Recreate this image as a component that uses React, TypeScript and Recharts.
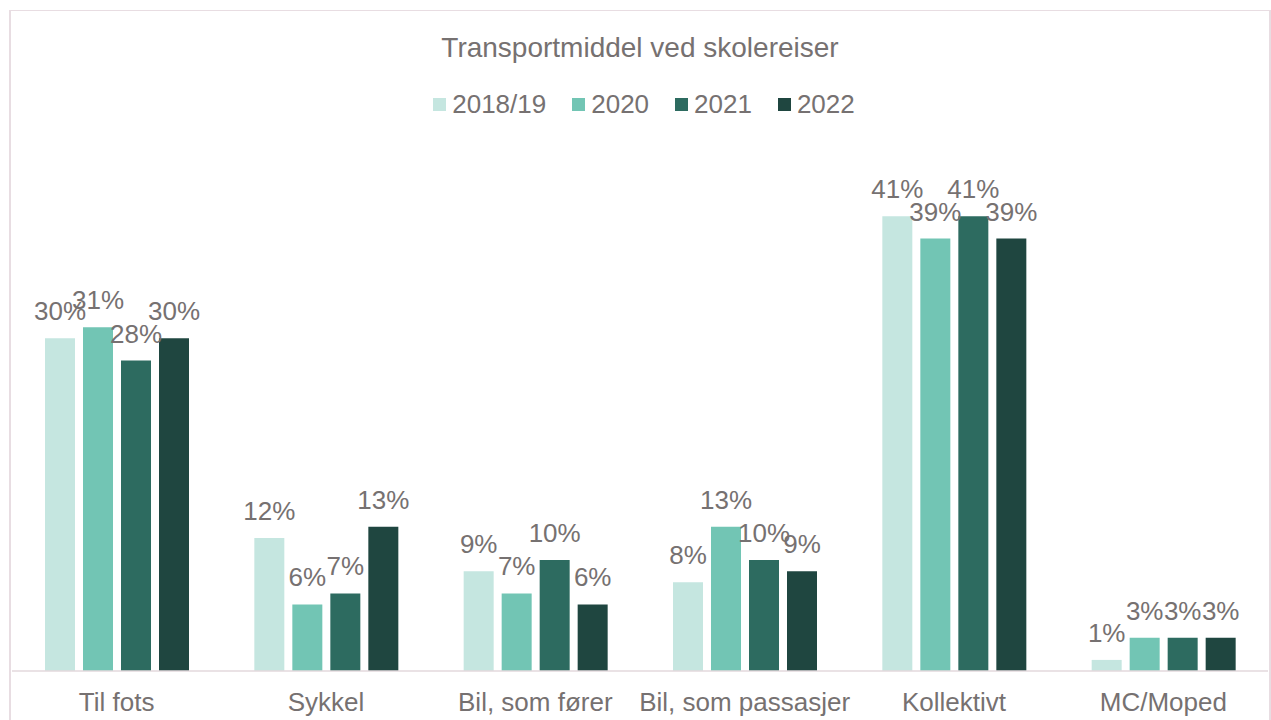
import { BarChart, Bar, XAxis, YAxis, Legend, LabelList } from 'recharts';

const categories = ['Til fots', 'Sykkel', 'Bil, som fører', 'Bil, som passasjer', 'Kollektivt', 'MC/Moped'];
const seriesNames = ['2018/19', '2020', '2021', '2022'];
const values2018 = [30, 12, 9, 8, 41, 1];
const values2020 = [31, 6, 7, 13, 39, 3];
const values2021 = [28, 7, 10, 10, 41, 3];
const values2022 = [30, 13, 6, 9, 39, 3];
const seriesValues = [values2018, values2020, values2021, values2022];
const colors = ['#C5E6E0', '#72C5B4', '#2D6B60', '#1F4640'];

const textColor = '#767171';
const fontFamily = '"Liberation Sans", Arial, sans-serif';

const data = categories.map((name, i) => {
  const row: Record<string, string | number> = { name };
  seriesNames.forEach((s, j) => {
    row[s] = seriesValues[j][i];
  });
  return row;
});

const renderLegend = (props: any) => {
  const payload = props.payload || [];
  return (
    <div
      style={{
        display: 'flex',
        justifyContent: 'center',
        alignItems: 'center',
        fontSize: 26,
        lineHeight: '30px',
        color: textColor,
        paddingLeft: 8,
      }}
    >
      {payload.map((entry: any, i: number) => (
        <span
          key={entry.value}
          style={{ display: 'flex', alignItems: 'center', marginRight: i < payload.length - 1 ? 26 : 0 }}
        >
          <span style={{ display: 'inline-block', width: 13, height: 13, background: entry.color, marginRight: 6 }} />
          {entry.value}
        </span>
      ))}
    </div>
  );
};

export default function App() {
  return (
    <div
      style={{
        position: 'absolute',
        left: 0,
        top: 0,
        width: 1271,
        height: 720,
        overflow: 'hidden',
        background: '#fff',
        fontFamily,
      }}
    >
      <BarChart
        width={1271}
        height={720}
        data={data}
        margin={{ top: 172, right: 3, left: 12, bottom: 0 }}
        barGap={8}
        barSize={30}
        style={{ fontFamily }}
      >
        <XAxis
          dataKey="name"
          height={49}
          interval={0}
          tickLine={false}
          tickSize={0}
          tickMargin={22}
          axisLine={{ stroke: '#E3D8DD', strokeWidth: 1.5 }}
          tick={{ fill: textColor, fontSize: 26 }}
        />
        <YAxis hide domain={[0, 45]} />
        <Legend
          verticalAlign="middle"
          align="center"
          layout="horizontal"
          content={renderLegend}
          wrapperStyle={{ top: 89, left: 10, width: 1260 }}
        />
        {seriesNames.map((s, j) => (
          <Bar key={s} dataKey={s} fill={colors[j]} isAnimationActive={false}>
            <LabelList
              dataKey={s}
              position="top"
              offset={18}
              formatter={(v: any) => `${v}%`}
              style={{ fill: textColor, fontSize: 26 }}
            />
          </Bar>
        ))}
      </BarChart>
      <div
        style={{
          position: 'absolute',
          left: 10,
          top: 34,
          width: 1260,
          textAlign: 'center',
          fontSize: 28,
          lineHeight: '28px',
          color: textColor,
          pointerEvents: 'none',
        }}
      >
        Transportmiddel ved skolereiser
      </div>
      <div
        style={{
          position: 'absolute',
          left: 9,
          top: 10,
          width: 1262,
          height: 760,
          boxSizing: 'border-box',
          borderTop: '1px solid #E8DDE2',
          borderLeft: '2px solid #E8DDE2',
          borderRight: '2px solid #E8DDE2',
          pointerEvents: 'none',
        }}
      />
    </div>
  );
}
